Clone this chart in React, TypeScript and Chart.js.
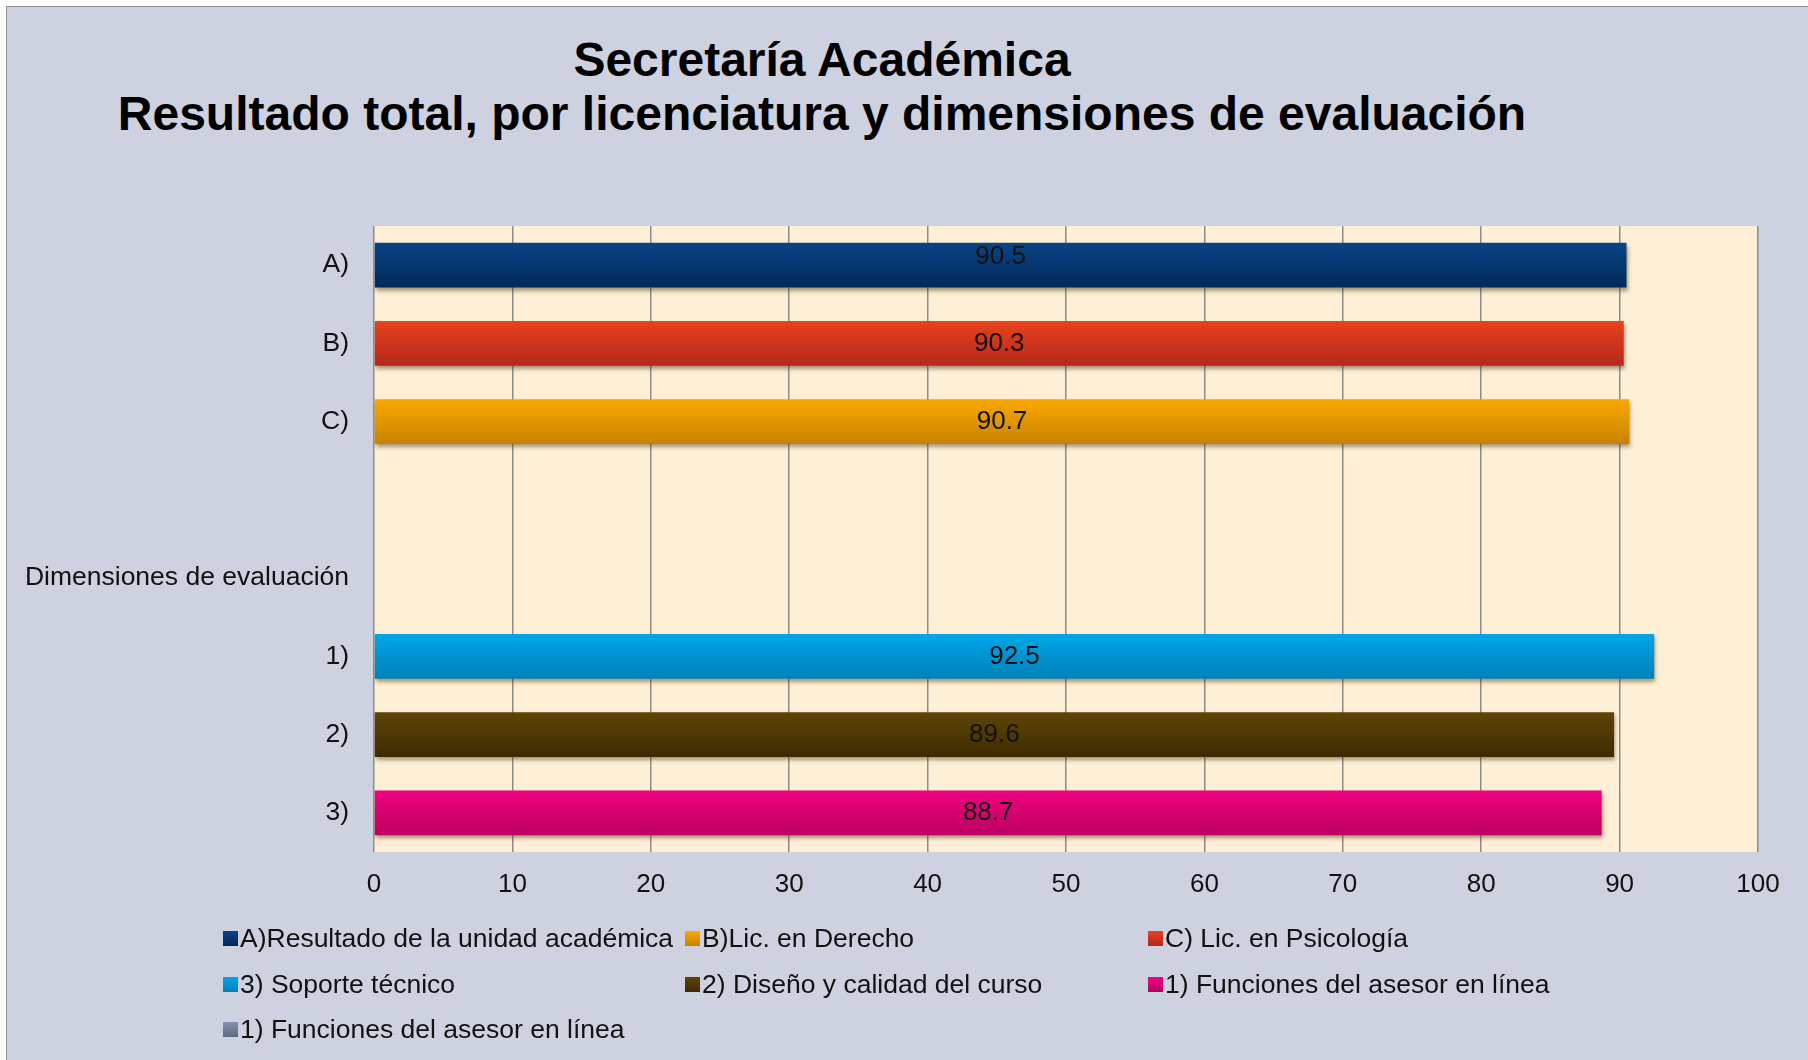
import React, { useEffect, useRef } from 'react';
import { Chart, registerables } from 'chart.js';

Chart.register(...registerables);

// ---- data ----
const categories = ['A)', 'B)', 'C)', '', 'Dimensiones de evaluación', '1)', '2)', '3)'];

const seriesLabels = [
  'A)Resultado de la unidad académica',
  'B)Lic. en Derecho',
  'C) Lic. en Psicología',
  '3) Soporte técnico',
  '2) Diseño y calidad del curso',
  '1) Funciones del asesor en línea',
  '1) Funciones del asesor en línea',
];

const resultadoUnidad = [90.5, null, null, null, null, null, null, null];
const licDerecho = [null, null, 90.7, null, null, null, null, null];
const licPsicologia = [null, 90.3, null, null, null, null, null, null];
const soporteTecnico = [null, null, null, null, null, 92.5, null, null];
const disenoCalidad = [null, null, null, null, null, null, 89.6, null];
const funcionesAsesor = [null, null, null, null, null, null, null, 88.7];
const funcionesAsesorB = [null, null, null, null, null, null, null, null];

const seriesData = [
  resultadoUnidad,
  licDerecho,
  licPsicologia,
  soporteTecnico,
  disenoCalidad,
  funcionesAsesor,
  funcionesAsesorB,
];

const topColors = ['#0a4486', '#faa900', '#e9421f', '#00a6e9', '#5f4505', '#f0037f', '#8592ae'];
const bottomColors = ['#00295a', '#c88200', '#b4281a', '#0081b9', '#3e2a02', '#bb0062', '#5d6985'];

const xMin = 0;
const xMax = 100;
const xStep = 10;

const FONT = '"Liberation Sans", Arial, sans-serif';
const BAR_PCT = 0.575;

export default function App() {
  const ref = useRef<HTMLCanvasElement>(null);

  useEffect(() => {
    const canvas = ref.current;
    if (!canvas) return;

    const gradientFor = (i: number) => (ctx: any) => {
      const chart = ctx.chart;
      const y = chart.scales && chart.scales.y;
      if (!y || ctx.type !== 'data' || !chart.chartArea) return topColors[i];
      const cy = y.getPixelForValue(ctx.dataIndex);
      const half = (y.height / categories.length) * BAR_PCT / 2;
      if (!Number.isFinite(cy) || !Number.isFinite(half) || half <= 0) return topColors[i];
      const g = chart.ctx.createLinearGradient(0, cy - half, 0, cy + half);
      g.addColorStop(0, topColors[i]);
      g.addColorStop(1, bottomColors[i]);
      return g;
    };

    const bgPlugin = {
      id: 'plotBg',
      beforeDraw(chart: any) {
        const { ctx, chartArea } = chart;
        ctx.save();
        ctx.fillStyle = '#fdf0d6';
        ctx.fillRect(chartArea.left, chartArea.top, chartArea.right - chartArea.left, chartArea.bottom - chartArea.top);
        ctx.restore();
      },
    };

    const shadowPlugin = {
      id: 'barShadow',
      beforeDatasetDraw(chart: any) {
        const ctx = chart.ctx;
        ctx.save();
        ctx.shadowColor = 'rgba(60,40,0,0.45)';
        ctx.shadowBlur = 4;
        ctx.shadowOffsetX = 1;
        ctx.shadowOffsetY = 3;
      },
      afterDatasetDraw(chart: any) {
        chart.ctx.restore();
      },
    };

    const labelPlugin = {
      id: 'valueLabels',
      afterDatasetsDraw(chart: any) {
        const ctx = chart.ctx;
        ctx.save();
        ctx.font = `26px ${FONT}`;
        ctx.fillStyle = '#111';
        ctx.textAlign = 'center';
        ctx.textBaseline = 'middle';
        chart.data.datasets.forEach((ds: any, di: number) => {
          const meta = chart.getDatasetMeta(di);
          meta.data.forEach((el: any, idx: number) => {
            const v = ds.data[idx];
            if (v === null || v === undefined) return;
            const cx = (el.x + el.base) / 2;
            const dy = idx === 0 ? -8 : 0;
            ctx.fillText(v.toFixed(1), cx, el.y + dy);
          });
        });
        ctx.restore();
      },
    };

    const chart = new Chart(canvas, {
      type: 'bar',
      data: {
        labels: categories,
        datasets: seriesLabels.map((label, i) => ({
          label,
          data: seriesData[i],
          backgroundColor: gradientFor(i),
          borderWidth: 0,
          grouped: false,
          categoryPercentage: 1,
          barPercentage: BAR_PCT,
        })),
      },
      options: {
        indexAxis: 'y',
        responsive: false,
        maintainAspectRatio: false,
        animation: false,
        layout: { padding: { top: 226, right: 50, bottom: 148, left: 0 } },
        plugins: {
          legend: { display: false },
          title: { display: false },
          tooltip: { enabled: false },
        },
        scales: {
          x: {
            min: xMin,
            max: xMax,
            ticks: { stepSize: xStep, padding: 17, color: '#111', font: { family: FONT, size: 26 } },
            grid: { color: '#8c8c8c', lineWidth: 1.5, drawTicks: false },
            border: { display: false },
            afterFit: (s: any) => {
              s.height = 60;
            },
          },
          y: {
            ticks: { padding: 25, autoSkip: false, color: '#111', font: { family: FONT, size: 26.5 } },
            grid: { display: false, drawTicks: false },
            border: { display: false },
            afterFit: (s: any) => {
              s.width = 374;
            },
          },
        },
      } as any,
      plugins: [bgPlugin, shadowPlugin, labelPlugin],
    });

    return () => chart.destroy();
  }, []);

  return (
    <div
      style={{
        position: 'absolute',
        left: 0,
        top: 0,
        width: 1808,
        height: 1060,
        overflow: 'hidden',
        background: '#ffffff',
        fontFamily: FONT,
      }}
    >
      <div
        style={{
          position: 'absolute',
          left: 6,
          top: 6,
          width: 1850,
          height: 1100,
          background: '#ced1df',
          border: '1.5px solid #8f8f8f',
        }}
      />
      <div
        style={{
          position: 'absolute',
          left: 0,
          top: 33,
          width: 1644,
          textAlign: 'center',
          fontWeight: 'bold',
          fontSize: 48,
          lineHeight: '54px',
          color: '#000',
        }}
      >
        <div>Secretaría Académica</div>
        <div>Resultado total, por licenciatura y dimensiones de evaluación</div>
      </div>
      <canvas
        ref={ref}
        width={1808}
        height={1060}
        style={{ position: 'absolute', left: 0, top: 0, width: 1808, height: 1060 }}
      />
      {seriesLabels.map((label, i) => {
        const col = i % 3;
        const row = Math.floor(i / 3);
        const left = [223, 685, 1148][col];
        const cy = [938, 984.5, 1029][row];
        return (
          <div
            key={i}
            style={{
              position: 'absolute',
              left,
              top: cy - 16,
              height: 32,
              display: 'flex',
              alignItems: 'center',
              whiteSpace: 'nowrap',
              fontSize: 26.5,
              color: '#111',
            }}
          >
            <span
              style={{
                display: 'inline-block',
                width: 15,
                height: 15,
                marginRight: 2,
                background: `linear-gradient(${topColors[i]}, ${bottomColors[i]})`,
              }}
            />
            <span>{label}</span>
          </div>
        );
      })}
    </div>
  );
}
